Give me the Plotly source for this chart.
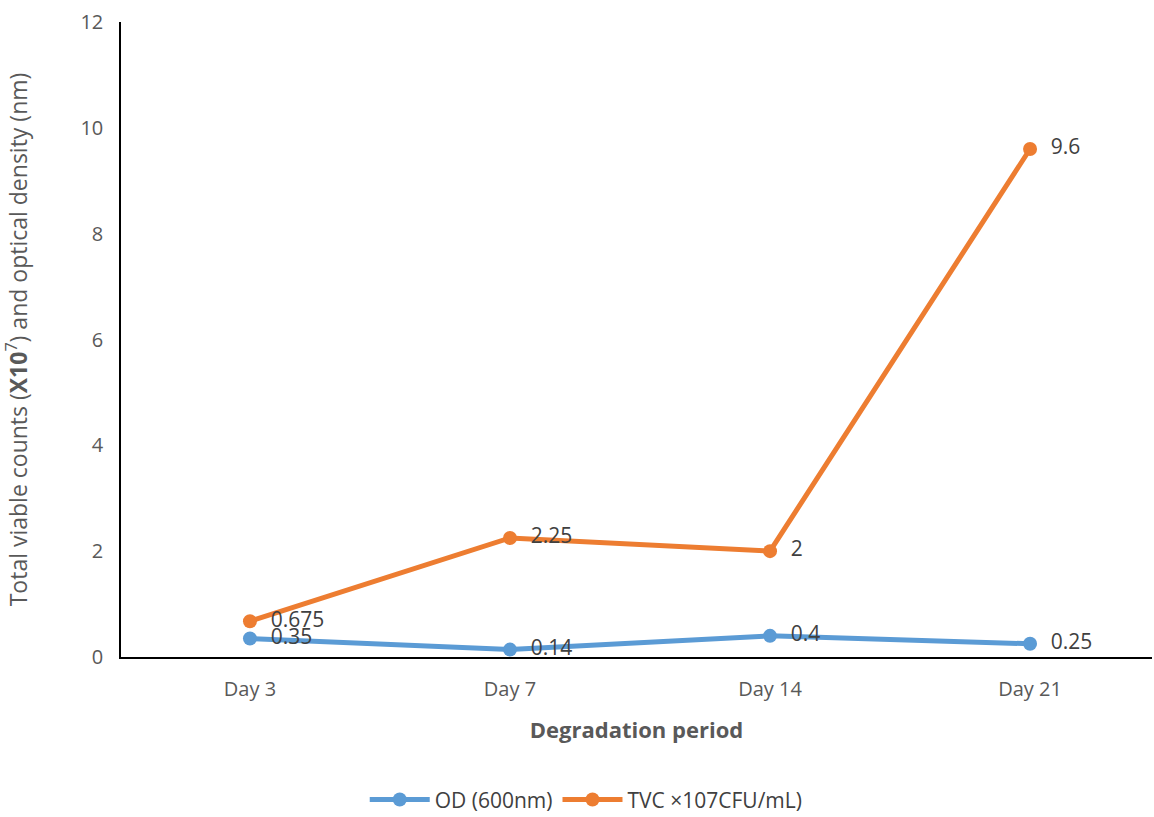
import plotly.graph_objects as go

days = ["Day 3", "Day 7", "Day 14", "Day 21"]
od_600 = [0.35, 0.14, 0.4, 0.25]
tvc = [0.675, 2.25, 2.0, 9.6]
y_ticks = [0, 2, 4, 6, 8, 10, 12]

BLUE = "#5B9BD5"
ORANGE = "#ED7D31"
FONT = "Open Sans"
PAD = "\u00a0\u00a0"


def labels(values):
    return [PAD + f"{v:g}" for v in values]


fig = go.Figure()
fig.add_trace(go.Scatter(
    x=days, y=od_600, name="OD (600nm)", mode="lines+markers+text",
    line=dict(color=BLUE, width=5), marker=dict(size=14, color=BLUE),
    text=labels(od_600), textposition="middle right",
    textfont=dict(size=21, color="#404040", family=FONT),
))
fig.add_trace(go.Scatter(
    x=days, y=tvc, name="TVC \u00d7107CFU/mL)", mode="lines+markers+text",
    line=dict(color=ORANGE, width=5), marker=dict(size=14, color=ORANGE),
    text=labels(tvc), textposition="middle right",
    textfont=dict(size=21, color="#404040", family=FONT),
))

fig.update_layout(
    width=1154, height=817,
    margin=dict(l=121, r=2, t=22, b=160, autoexpand=False),
    paper_bgcolor="white", plot_bgcolor="white",
    font=dict(family=FONT, color="#595959", size=18),
    showlegend=True,
    legend=dict(orientation="h", x=0.508, xanchor="center", xref="container",
                y=-0.225, yanchor="middle", itemwidth=60,
                font=dict(size=21, color="#404040")),
    xaxis=dict(
        type="category", range=[-0.496, 3.469], automargin=False,
        showline=True, linecolor="black", linewidth=1.5,
        showgrid=False, ticks="", zeroline=False, ticklabelstandoff=13,
        tickfont=dict(size=20, color="#595959"),
        title=dict(text="<b>Degradation period</b>", standoff=22,
                   font=dict(size=22, color="#595959")),
    ),
    yaxis=dict(
        range=[0, 12], tickvals=y_ticks, automargin=False,
        showline=True, linecolor="black", linewidth=1.5,
        showgrid=False, ticks="", zeroline=False, ticklabelstandoff=12,
        tickfont=dict(size=20, color="#595959"),
        title=dict(text="Total viable counts (<b>X10</b><sup>7</sup>) and optical density (nm)",
                   standoff=48, font=dict(size=23, color="#595959")),
    ),
)

fig.write_html("out.html")
